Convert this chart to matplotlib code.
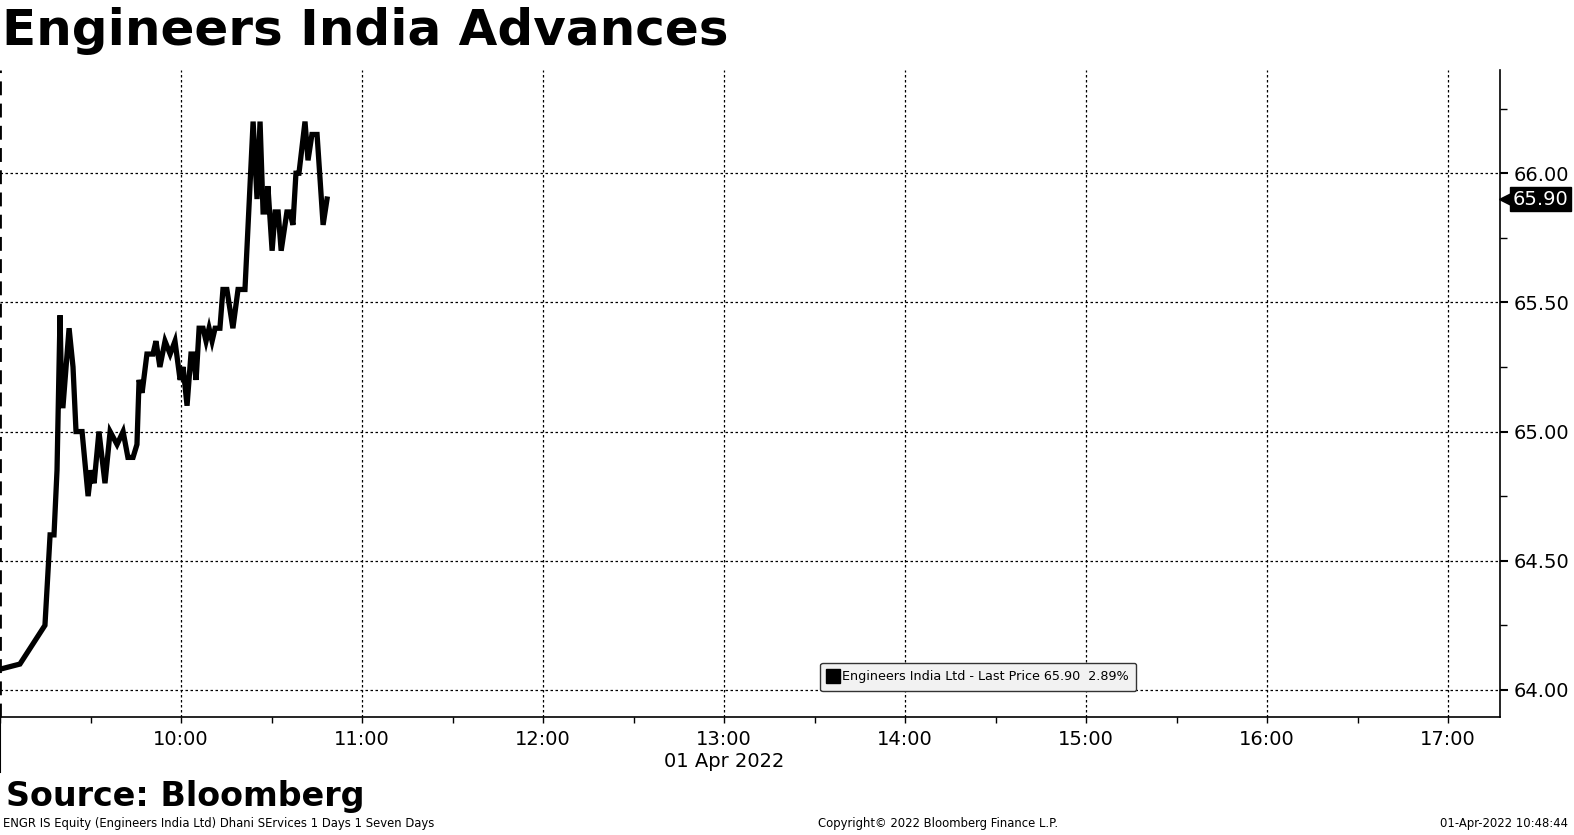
import matplotlib
matplotlib.use('Agg')
import matplotlib.pyplot as plt
import matplotlib.ticker as mticker
import matplotlib.transforms as mtransforms
from matplotlib.lines import Line2D

# intraday prints, minutes after 09:00 on 01 Apr 2022
minutes = [0, 6.6, 14.9, 16.6, 17.9, 18.9, 19.9, 20.5, 20.9, 22.9, 24.2, 25.2, 27.2,
           29.2, 30.2, 31.2, 32.8, 34.8, 36.5, 38.8, 40.8, 42.4, 44.1, 45.4, 46.1,
           47.1, 48.7, 50.7, 51.7, 53.0, 54.7, 56.4, 58.0, 59.7, 60.7, 62.0, 63.3,
           64.0, 65.0, 66.0, 67.3, 68.3, 69.3, 70.3, 71.3, 72.9, 73.9, 75.2, 77.2,
           78.9, 81.2, 83.9, 85.2, 86.2, 87.2, 88.2, 88.8, 90.2, 91.2, 92.2, 93.2,
           95.1, 96.1, 97.1, 98.1, 99.1, 101.1, 102.1, 103.4, 105.1, 107.1, 108.4]
prices = [64.08, 64.10, 64.25, 64.60, 64.60, 64.85, 65.45, 65.10, 65.10, 65.40, 65.25,
          65.00, 65.00, 64.75, 64.85, 64.80, 65.00, 64.80, 65.00, 64.95, 65.00, 64.90,
          64.90, 64.95, 65.20, 65.15, 65.30, 65.30, 65.35, 65.25, 65.35, 65.30, 65.35,
          65.20, 65.25, 65.10, 65.30, 65.30, 65.20, 65.40, 65.40, 65.35, 65.40, 65.35,
          65.40, 65.40, 65.55, 65.55, 65.40, 65.55, 65.55, 66.20, 65.90, 66.20, 65.85,
          65.85, 65.95, 65.70, 65.85, 65.85, 65.70, 65.85, 65.85, 65.80, 66.00, 66.00,
          66.20, 66.05, 66.15, 66.15, 65.80, 65.90]

hour_ticks = [10, 11, 12, 13, 14, 15, 16, 17]
hour_labels = ['10:00', '11:00', '12:00', '13:00\n01 Apr 2022', '14:00', '15:00', '16:00', '17:00']
price_ticks = [64.0, 64.5, 65.0, 65.5, 66.0]
last_price = 65.90
change_pct = 2.89

title = 'Engineers India Advances'
source = 'Source: Bloomberg'
footer_left = 'ENGR IS Equity (Engineers India Ltd) Dhani SErvices 1 Days 1 Seven Days'
footer_mid = 'Copyright\u00a9 2022 Bloomberg Finance L.P.'
footer_right = '01-Apr-2022 10:48:44'

plt.rcParams['font.family'] = ['DejaVu Sans']

fig = plt.figure(figsize=(15.74, 8.35), dpi=100)
ax = fig.add_axes([0.0, 0.1413, 0.953, 0.775])

hours = [9 + m / 60 for m in minutes]
ax.plot(hours, prices, color='black', lw=3.8, solid_joinstyle='miter', zorder=3)

ax.set_xlim(9.0, 17.287)
ax.set_ylim(63.895, 66.40)

# axes look
ax.spines['top'].set_visible(False)
ax.spines['left'].set_visible(False)
ax.spines['right'].set_linewidth(1.2)
ax.spines['bottom'].set_linewidth(1.2)
ax.yaxis.tick_right()

ax.set_xticks(hour_ticks)
ax.set_xticklabels(hour_labels)
ax.xaxis.set_minor_locator(mticker.MultipleLocator(0.5))
ax.set_yticks(price_ticks)
ax.yaxis.set_major_formatter(mticker.FormatStrFormatter('%.2f'))
ax.yaxis.set_minor_locator(mticker.MultipleLocator(0.25))

ax.tick_params(axis='x', which='major', length=4, width=1, pad=5, labelsize=14)
ax.tick_params(axis='x', which='minor', length=4, width=1)
ax.tick_params(axis='y', which='major', length=6, width=1.5, pad=4, labelsize=14)
ax.tick_params(axis='y', which='minor', length=5, width=1)

ax.grid(True, which='major', color='black', lw=0.9, linestyle=(0, (2, 2)))

# session start marker at 09:00
ax.axvline(9.0, color='black', lw=2, linestyle=(0, (5, 3)), clip_on=False, zorder=4)
ax.axvline(9.0, ymin=-0.085, ymax=0, color='black', lw=1.5, clip_on=False)

# last price tag on the right axis
trans = mtransforms.blended_transform_factory(ax.transAxes, ax.transData)
ax.plot([1.003], [last_price], marker='<', color='black', markersize=9,
        transform=trans, clip_on=False)
ax.text(1.0085, last_price, f'{last_price:.2f}', transform=trans, color='white',
        fontsize=14, va='center', ha='left',
        bbox=dict(boxstyle='square,pad=0.12', facecolor='black', edgecolor='black'))

handle = Line2D([], [], color='black', marker='s', linestyle='none', markersize=10)
leg = ax.legend([handle], [f'Engineers India Ltd - Last Price {last_price:.2f}  {change_pct:.2f}%'],
                loc='center', bbox_to_anchor=(0.652, 0.062), fontsize=9.2,
                handletextpad=0.3, handlelength=0.8, borderpad=0.6,
                fancybox=True, framealpha=1)
leg.get_frame().set_facecolor('#f2f2f2')
leg.get_frame().set_edgecolor('#333333')
leg.get_frame().set_linewidth(1)

fig.text(0.001, 0.992, title, fontsize=36, fontweight='bold', va='top', ha='left')
fig.text(0.004, 0.035, source, fontsize=24, fontweight='bold', va='baseline', ha='left')
fig.text(0.002, 0.006, footer_left, fontsize=8.4, va='bottom', ha='left')
fig.text(0.596, 0.006, footer_mid, fontsize=8.4, va='bottom', ha='center')
fig.text(0.996, 0.006, footer_right, fontsize=8.4, va='bottom', ha='right')

fig.savefig('out.png', dpi=100)
plt.close(fig)
